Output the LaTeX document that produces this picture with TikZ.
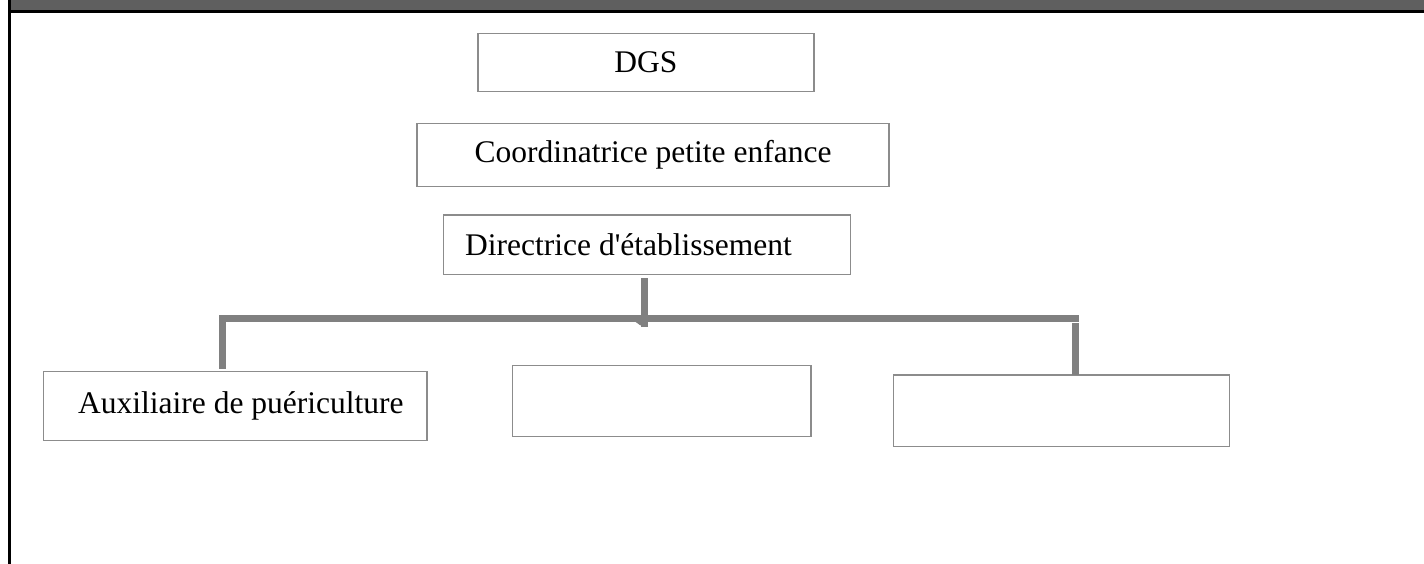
\documentclass[tikz,border=0pt]{standalone}
\usepackage{fontspec}
\setmainfont{Liberation Serif}
\newfontfamily\rawserif{Liberation Serif}[Ligatures=TeXOff]
\definecolor{bandgray}{HTML}{5F5F5F}
\definecolor{conngray}{HTML}{808080}
\definecolor{boxgray}{HTML}{8C8C8C}
\tikzset{
  orgbox/.style={draw=boxgray, line width=1.3pt, fill=white, inner sep=0pt, font=\fontsize{31.5}{36}\selectfont},
  conn/.style={draw=conngray, line width=7pt},
  lbl/.style={inner sep=0pt, font=\fontsize{31.5}{36}\selectfont}
}
\begin{document}
\begin{tikzpicture}[x=1pt,y=-1pt]
\useasboundingbox (0,0) rectangle (1424,564);
\fill[white] (0,0) rectangle (1424,564);
% top band and frame
\fill[bandgray] (11,0) rectangle (1424,10);
\fill[black] (8,10) rectangle (1424,13);
\fill[black] (8,0) rectangle (11,564);
% boxes
\node[orgbox, minimum width=336pt, minimum height=58.5pt] (dgs) at (646,62.5) {DGS};
\node[orgbox, minimum width=472pt, minimum height=63.5pt] (coord) at (653,155) {Coordinatrice petite enfance};
\node[orgbox, minimum width=407.5pt, minimum height=59.5pt] (dir) at (647,244.8) {};
\node[lbl, anchor=base west] (dirlbl) at (465,255) {\rawserif Directrice d'établissement};
\node[orgbox, minimum width=383.7pt, minimum height=69pt] (aux) at (235.2,406.2) {};
\node[lbl, anchor=base west] (auxlbl) at (78,413) {Auxiliaire de puériculture};
\node[orgbox, minimum width=298.5pt, minimum height=71pt] (b2) at (661.7,401.2) {};
\node[orgbox, minimum width=336pt, minimum height=71.7pt] (b3) at (1061.3,410.8) {};
% connector points
\coordinate (vtop) at (644.5,278);
\coordinate (vbot) at (644.5,327);
\coordinate (hl) at (219,318.5);
\coordinate (hr) at (1079,318.5);
\coordinate (ltop) at (222.5,315);
\coordinate (lbot) at (222.5,369);
\coordinate (rtop) at (1075,323);
\coordinate (rbot) at (1075,375);
% connectors
\draw[conn] (vtop) -- (vbot);
\draw[conn] (hl) -- (hr);
\draw[conn] (ltop) -- (lbot);
\draw[conn] (rtop) -- (rbot);
\fill[conngray] (635,321.5) -- (642,321.5) -- (640.5,325.5) -- cycle;
\end{tikzpicture}
\end{document}
